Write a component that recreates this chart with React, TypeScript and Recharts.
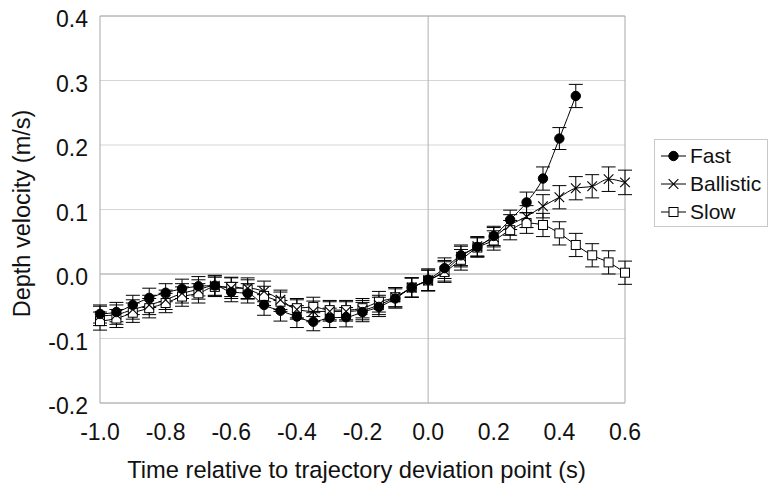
import React from 'react';
import {
  LineChart,
  Line,
  XAxis,
  YAxis,
  CartesianGrid,
  ReferenceLine,
  ReferenceArea,
  ErrorBar,
  Label,
} from 'recharts';

// time (s) relative to trajectory deviation point
const times = [
  -1.0, -0.95, -0.9, -0.85, -0.8, -0.75, -0.7, -0.65, -0.6, -0.55, -0.5,
  -0.45, -0.4, -0.35, -0.3, -0.25, -0.2, -0.15, -0.1, -0.05, 0.0,
  0.05, 0.1, 0.15, 0.2, 0.25, 0.3, 0.35, 0.4, 0.45, 0.5, 0.55, 0.6,
];

const fastValues = [
  -0.062, -0.059, -0.048, -0.037, -0.029, -0.023, -0.019, -0.018, -0.028, -0.030, -0.048,
  -0.057, -0.066, -0.074, -0.068, -0.067, -0.059, -0.051, -0.038, -0.021, -0.009,
  0.009, 0.029, 0.042, 0.059, 0.084, 0.111, 0.148, 0.210, 0.276,
];
const fastErrors = [
  0.014, 0.015, 0.015, 0.015, 0.014, 0.015, 0.015, 0.015, 0.015, 0.015, 0.016,
  0.016, 0.017, 0.014, 0.015, 0.015, 0.015, 0.015, 0.015, 0.015, 0.017,
  0.016, 0.016, 0.015, 0.015, 0.015, 0.016, 0.018, 0.017, 0.018,
];

const ballisticValues = [
  -0.065, -0.063, -0.055, -0.048, -0.040, -0.030, -0.024, -0.018, -0.022, -0.022, -0.027,
  -0.040, -0.055, -0.058, -0.058, -0.058, -0.056, -0.048, -0.036, -0.021, -0.010,
  0.005, 0.027, 0.043, 0.057, 0.076, 0.089, 0.105, 0.119, 0.133, 0.136, 0.147, 0.142,
];
const ballisticErrors = [
  0.015, 0.015, 0.015, 0.015, 0.015, 0.015, 0.015, 0.016, 0.016, 0.016, 0.016,
  0.015, 0.015, 0.016, 0.015, 0.015, 0.015, 0.015, 0.015, 0.015, 0.016,
  0.016, 0.016, 0.015, 0.015, 0.016, 0.017, 0.018, 0.018, 0.018, 0.018, 0.019, 0.019,
];

const slowValues = [
  -0.073, -0.069, -0.060, -0.053, -0.045, -0.035, -0.030, -0.020, -0.020, -0.024, -0.034,
  -0.043, -0.053, -0.051, -0.056, -0.056, -0.053, -0.043, -0.036, -0.021, -0.010,
  0.003, 0.022, 0.041, 0.052, 0.068, 0.079, 0.076, 0.063, 0.045, 0.029, 0.018, 0.002,
];
const slowErrors = [
  0.014, 0.014, 0.015, 0.015, 0.015, 0.015, 0.015, 0.015, 0.015, 0.015, 0.015,
  0.015, 0.015, 0.015, 0.015, 0.015, 0.015, 0.016, 0.015, 0.015, 0.016,
  0.016, 0.016, 0.015, 0.015, 0.015, 0.016, 0.018, 0.018, 0.018, 0.018, 0.018, 0.018,
];

const xTicks = [-1.0, -0.8, -0.6, -0.4, -0.2, 0.0, 0.2, 0.4, 0.6];
const yTicks = [-0.2, -0.1, 0.0, 0.1, 0.2, 0.3, 0.4];

const seriesNames = ['Fast', 'Ballistic', 'Slow'];

const fastData = fastValues.map((v, i) => ({ t: times[i], v, e: fastErrors[i] }));
const ballisticData = ballisticValues.map((v, i) => ({ t: times[i], v, e: ballisticErrors[i] }));
const slowData = slowValues.map((v, i) => ({ t: times[i], v, e: slowErrors[i] }));

const FONT = '"Liberation Sans", Arial, sans-serif';
const INK = '#111';

const Circle = ({ cx, cy }: any) => <circle cx={cx} cy={cy} r={4.7} fill="#000" stroke="#000" />;
const Cross = ({ cx, cy }: any) => (
  <g stroke="#000" strokeWidth={1.1}>
    <line x1={cx - 4.8} y1={cy - 4.8} x2={cx + 4.8} y2={cy + 4.8} />
    <line x1={cx - 4.8} y1={cy + 4.8} x2={cx + 4.8} y2={cy - 4.8} />
  </g>
);
const Square = ({ cx, cy }: any) => (
  <rect x={cx - 4.5} y={cy - 4.5} width={9} height={9} fill="#fff" stroke="#000" strokeWidth={1} />
);

const renderDot = (Shape: any, prefix: string) => (props: any) => {
  if (props.cx == null || props.cy == null) return <g key={`${prefix}-${props.index}`} />;
  return <Shape key={`${prefix}-${props.index}`} cx={props.cx} cy={props.cy} />;
};

const ChartLegend = () => {
  const icons = [Circle, Cross, Square];
  return (
    <div
      style={{
        position: 'absolute',
        left: 654,
        top: 139,
        width: 114,
        height: 88,
        border: '1px solid #c8c8c8',
        background: '#fff',
        boxSizing: 'border-box',
        paddingTop: 2,
      }}
    >
      {seriesNames.map((name, i) => {
        const Icon = icons[i];
        return (
          <div key={name} style={{ display: 'flex', alignItems: 'center', height: 28 }}>
            <svg width={35} height={20} style={{ display: 'block' }}>
              <line x1={6} y1={10} x2={31} y2={10} stroke="#000" strokeWidth={1} />
              <Icon cx={18.5} cy={10} />
            </svg>
            <span style={{ fontFamily: FONT, fontSize: 21, color: INK, lineHeight: '22px' }}>{name}</span>
          </div>
        );
      })}
    </div>
  );
};

export default function App() {
  return (
    <div style={{ position: 'absolute', left: 0, top: 0, width: 769, height: 491, background: '#fff' }}>
      <LineChart width={769} height={491} margin={{ top: 16, right: 144, bottom: 0, left: 0 }}>
        <CartesianGrid horizontal vertical={false} stroke="#d6d6d6" />
        <XAxis
          type="number"
          dataKey="t"
          domain={[-1, 0.6]}
          ticks={xTicks}
          allowDuplicatedCategory={false}
          tickFormatter={(v: number) => v.toFixed(1)}
          axisLine={false}
          tickLine={false}
          tickSize={0}
          tickMargin={21}
          height={88}
          tick={{ fontFamily: FONT, fontSize: 23, fill: INK }}
        >
          <Label
            value="Time relative to trajectory deviation point (s)"
            position="insideBottom"
            offset={13}
            dx={-6}
            style={{ fontFamily: FONT, fontSize: 23.7, fill: INK }}
          />
        </XAxis>
        <YAxis
          type="number"
          domain={[-0.2, 0.4]}
          ticks={yTicks}
          tickFormatter={(v: number) => v.toFixed(1)}
          axisLine={false}
          tickLine={false}
          tickSize={0}
          tickMargin={12}
          width={100}
          tick={{ fontFamily: FONT, fontSize: 23, fill: INK, dy: 3 }}
        >
          <Label
            content={(p: any) => {
              const vb = p.viewBox || {};
              const cx = 30;
              const cy = vb.y + vb.height / 2 + 4;
              return (
                <text
                  x={cx}
                  y={cy}
                  transform={`rotate(-90 ${cx} ${cy})`}
                  textAnchor="middle"
                  style={{ fontFamily: FONT, fontSize: 23.5, fill: INK }}
                >
                  Depth velocity (m/s)
                </text>
              );
            }}
          />
        </YAxis>
        <ReferenceArea x1={-1} x2={0.6} y1={-0.2} y2={0.4} fill="none" stroke="#a8a8a8" strokeWidth={1} ifOverflow="visible" />
        <ReferenceLine y={0} stroke="#b0b0b0" />
        <ReferenceLine x={0} stroke="#b0b0b0" />
        <Line
          data={slowData}
          dataKey="v"
          name="Slow"
          type="monotone"
          stroke="#000"
          strokeWidth={1}
          dot={renderDot(Square, 's')}
          activeDot={false}
          isAnimationActive={false}
        >
          <ErrorBar dataKey="e" width={7} stroke="#000" strokeWidth={1} direction="y" />
        </Line>
        <Line
          data={ballisticData}
          dataKey="v"
          name="Ballistic"
          type="monotone"
          stroke="#000"
          strokeWidth={1}
          dot={renderDot(Cross, 'b')}
          activeDot={false}
          isAnimationActive={false}
        >
          <ErrorBar dataKey="e" width={7} stroke="#000" strokeWidth={1} direction="y" />
        </Line>
        <Line
          data={fastData}
          dataKey="v"
          name="Fast"
          type="monotone"
          stroke="#000"
          strokeWidth={1}
          dot={renderDot(Circle, 'f')}
          activeDot={false}
          isAnimationActive={false}
        >
          <ErrorBar dataKey="e" width={7} stroke="#000" strokeWidth={1} direction="y" />
        </Line>
      </LineChart>
      <ChartLegend />
    </div>
  );
}
